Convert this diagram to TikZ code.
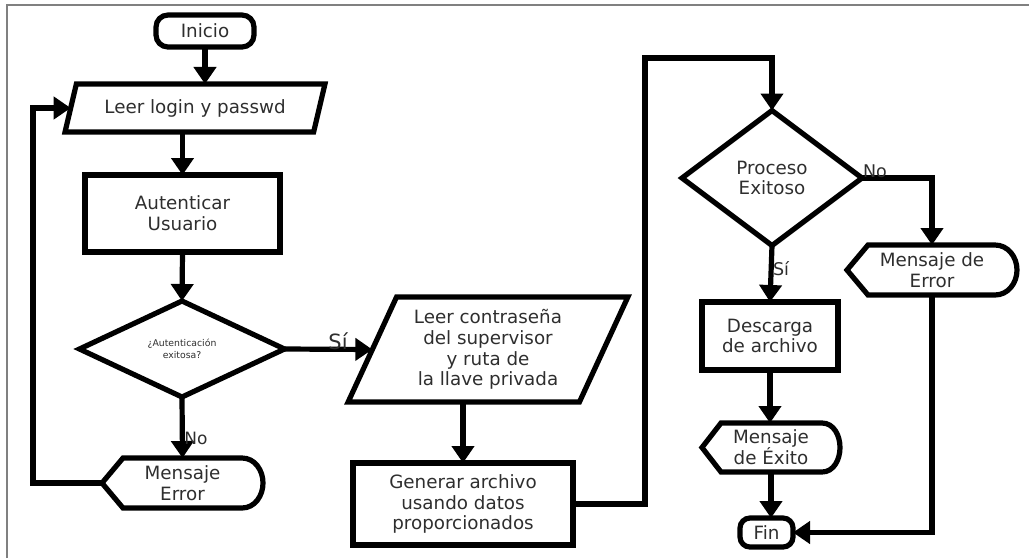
\documentclass[tikz,border=0pt]{standalone}
\usepackage{fontspec}
\setmainfont{DejaVu Sans}
\usetikzlibrary{arrows.meta,shapes.geometric,calc}

% outline of a "display" node: pointed left end, rounded right end
\newcommand{\dispoutline}[3]{%
  \draw[flow, line join=miter] (#1.west) -- ([xshift=#2]#1.north west)
    -- ([xshift=-#3]#1.north east) to[out=0,in=90] (#1.east)
    to[out=-90,in=0] ([xshift=-#3]#1.south east)
    -- ([xshift=#2]#1.south west) -- cycle;}

\begin{document}
\begin{tikzpicture}[x=1pt,y=-1pt,
  every node/.style={font=\fontsize{18.3}{20.8}\selectfont, text=black!82,
    align=center, inner sep=0pt, outer sep=0pt},
  flow/.style={line width=5.2pt},
  arr/.style={flow, -{Triangle[length=17pt,width=22pt]}},
  term/.style={draw, flow, rectangle, rounded corners=12pt},
  procbox/.style={draw, flow, rectangle, line join=miter},
  iobox/.style={draw, flow, trapezium, trapezium left angle=64,
    trapezium right angle=116, trapezium stretches=true, line join=miter},
  decision/.style={draw, flow, diamond, line join=miter},
  dispbox/.style={rectangle},
  lbl/.style={}
]
\useasboundingbox (0,0) rectangle (1029,558);

% page frame (top and left edges)
\coordinate (frametop) at (1029,5);
\coordinate (framecorner) at (7,5);
\coordinate (framebottom) at (7,558);
\draw[gray, line width=2pt] (framebottom) -- (framecorner) -- (frametop);

% ---- left column: login
\node[term, minimum width=98, minimum height=32] (inicio) at (205,31) {Inicio};
\node[iobox, minimum width=260, minimum height=48] (leer) at (195,108) {Leer login y passwd};
\node[procbox, minimum width=195, minimum height=77] (aut) at (182.5,213.5) {Autenticar\\Usuario};
\node[decision, minimum width=205, minimum height=96,
  font=\fontsize{9.3}{11.5}\selectfont] (dia1) at (182,349) {¿Autenticación\\exitosa?};
\node[dispbox, minimum width=161, minimum height=50] (merr) at (182.5,483) {Mensaje\\Error};
\dispoutline{merr}{21}{21}

% ---- middle column: key data
\node[iobox, minimum width=280, minimum height=105] (para2) at (488,349.5)
  {Leer contraseña\\del supervisor\\y ruta de\\la llave privada};
\node[procbox, minimum width=220, minimum height=82] (gen) at (463,504)
  {Generar archivo\\usando datos\\proporcionados};

% ---- right column: result
\node[decision, minimum width=180, minimum height=135] (dia2) at (772,178) {Proceso\\Exitoso};
\node[dispbox, minimum width=170, minimum height=50] (merr2) at (932,270) {Mensaje de\\Error};
\dispoutline{merr2}{21}{22}
\node[procbox, minimum width=136, minimum height=68] (desc) at (770,336) {Descarga\\de archivo};
\node[dispbox, minimum width=138, minimum height=49] (mex) at (771,447.5) {Mensaje\\de Éxito};
\dispoutline{mex}{19}{18}
\node[term, minimum width=53, minimum height=29, rounded corners=10pt] (fin) at (766.5,532.5) {Fin};

% ---- connectors
\draw[arr] (inicio.south) -- (inicio.south |- leer.north);
\draw[arr] (aut.north |- leer.south) -- (aut.north);
\draw[arr] (aut.south) -- (dia1.north);
\draw[arr] (dia1.east) -- (para2.west);
\draw[arr] (dia1.south) -- (merr.north);
\coordinate (loopx) at (33,0);
\draw[arr] (merr.west) -- (merr.west -| loopx) |- (leer.west);
\draw[arr] (gen.north |- para2.south) -- (gen.north);
\coordinate (upl) at (645,58);
\draw[arr] (gen.east) -| (upl) -| (dia2.north);
\draw[arr] (dia2.east) -| (merr2.north);
\draw[arr] (dia2.south) -- (desc.north);
\draw[arr] (desc.south) -- (desc.south |- mex.north);
\draw[arr] (mex.south) -- (mex.south |- fin.north);
\draw[arr] (merr2.south) |- (fin.east);

% ---- branch labels
\node[lbl, font=\fontsize{21}{24}\selectfont] (si1) at (338,341) {Sí};
\node[lbl, font=\fontsize{17}{20}\selectfont] (no1) at (196,438) {No};
\node[lbl, font=\fontsize{17.5}{20}\selectfont] (no2) at (875,171) {No};
\node[lbl, font=\fontsize{17.5}{20}\selectfont] (si2) at (781,269) {Sí};
\end{tikzpicture}
\end{document}
